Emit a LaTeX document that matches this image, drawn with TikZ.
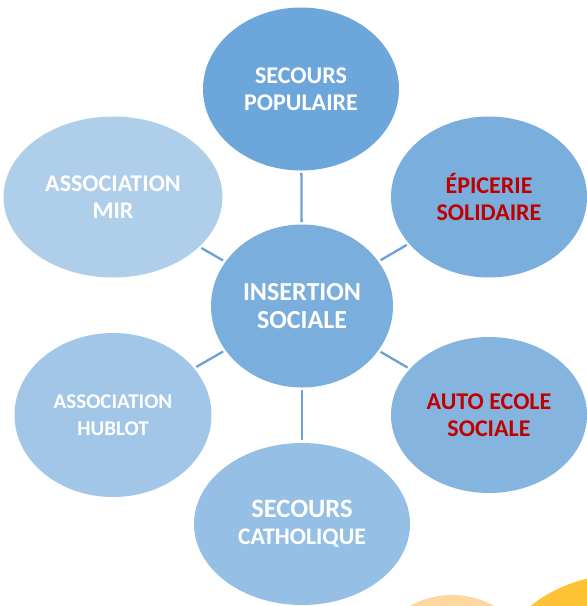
\documentclass[tikz,border=0pt]{standalone}
\usepackage{fontspec}
\setmainfont{Carlito}
\usetikzlibrary{shapes.geometric}
\definecolor{cA}{RGB}{108,166,218}
\definecolor{cB}{RGB}{122,175,221}
\definecolor{cC}{RGB}{122,175,221}
\definecolor{cD}{RGB}{133,181,223}
\definecolor{cE}{RGB}{149,191,228}
\definecolor{cF}{RGB}{162,198,231}
\definecolor{cG}{RGB}{174,206,234}
\definecolor{linkc}{RGB}{108,160,214}
\definecolor{redtxt}{RGB}{192,0,0}
\definecolor{peach}{RGB}{253,214,160}
\definecolor{sun}{RGB}{255,194,52}
\tikzset{
  blob/.style={ellipse, draw=none, inner sep=0pt, align=center, text=white,
    font=\bfseries\fontsize{24}{27}\selectfont},
  link/.style={draw=linkc, line width=2.3pt, shorten >=2.5pt, shorten <=2.5pt}
}
\begin{document}
\begin{tikzpicture}[x=1pt,y=-1pt]
\useasboundingbox (0,0) rectangle (587,606);
\clip (0,0) rectangle (587,606);
\fill[white] (0,0) rectangle (587,606);
\fill[peach] (452,681) circle (86);
\fill[sun] (620,720) circle (145);
\node[blob, fill=cA, minimum width=196pt, minimum height=163pt] (pop) at (301,89) {SECOURS\\POPULAIRE};
\node[blob, fill=cB, minimum width=196pt, minimum height=161pt, text=redtxt] (epi) at (489,197) {ÉPICERIE\\SOLIDAIRE};
\node[blob, fill=cD, minimum width=196pt, minimum height=156pt, text=redtxt] (auto) at (489,415) {AUTO ECOLE\\SOCIALE};
\node[blob, fill=cE, minimum width=216pt, minimum height=162pt, font=\bfseries\fontsize{23.8}{27.5}\selectfont] (cat) at (302,524) {{\fontsize{26.5}{27.5}\selectfont SECOURS}\\CATHOLIQUE};
\node[blob, fill=cF, minimum width=197pt, minimum height=164pt, font=\bfseries\fontsize{21}{27}\selectfont] (hub) at (113,415) {ASSOCIATION\\HUBLOT};
\node[blob, fill=cG, minimum width=219pt, minimum height=161pt] (mir) at (113,197) {ASSOCIATION\\MIR};
\node[blob, fill=cC, minimum width=182pt, minimum height=163pt, font=\bfseries\fontsize{26}{28}\selectfont] (ins) at (302,306) {INSERTION\\SOCIALE};
\draw[link] (ins) -- (pop);
\draw[link] (ins) -- (epi);
\draw[link] (ins) -- (auto);
\draw[link] (ins) -- (cat);
\draw[link] (ins) -- (hub);
\draw[link] (ins) -- (mir);
\end{tikzpicture}
\end{document}
